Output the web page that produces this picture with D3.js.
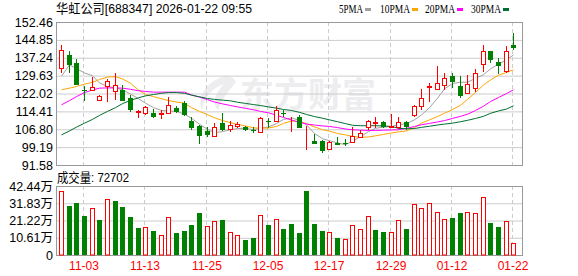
<!DOCTYPE html>
<html>
<head>
<meta charset="utf-8">
<script src="https://cdn.jsdelivr.net/npm/d3@7"></script>
<style>
  body { margin: 0; background: #fff; }
  text { font-family: Arial, "Liberation Sans", "Noto Sans CJK SC", sans-serif; }
</style>
</head>
<body>
<div id="chart"></div>
<script>
// trading days shown
const dates = ['10-29','10-30','10-31','11-03','11-04','11-05','11-06','11-07','11-10','11-11',
  '11-12','11-13','11-14','11-17','11-18','11-19','11-20','11-21','11-24','11-25',
  '11-26','11-27','11-28','12-01','12-02','12-03','12-04','12-05','12-08','12-09',
  '12-10','12-11','12-12','12-15','12-16','12-17','12-18','12-19','12-22','12-23',
  '12-24','12-25','12-26','12-29','12-30','12-31','01-05','01-06','01-07','01-08',
  '01-09','01-12','01-13','01-14','01-15','01-16','01-19','01-20','01-21','01-22'];

const open = [132.8,138.4,134.9,123.6,123.3,119.3,125.3,123.1,123.3,120.0,
  114.2,113.9,113.6,113.3,113.6,115.8,118.0,110.4,108.3,106.1,
  104.0,109.4,106.9,108.2,107.9,106.4,105.8,110.5,110.5,113.8,
  111.4,112.2,105.5,101.9,101.9,98.4,101.1,100.8,101.2,103.7,
  107.7,109.6,109.8,107.8,107.7,109.7,112.9,116.5,125.0,123.9,
  125.7,129.5,125.3,122.2,124.3,134.6,140.1,135.6,131.6,142.7];
const high = [142.7,140.3,136.6,125.3,128.9,121.5,128.1,130.7,125.7,121.4,
  115.1,116.8,115.6,115.1,120.5,116.5,119.0,111.9,108.7,107.9,
  109.4,113.6,110.5,109.7,108.2,107.9,112.2,111.5,116.8,114.8,
  112.2,112.9,108.0,104.8,102.3,102.0,103.6,102.6,107.7,106.6,
  110.8,112.2,110.5,113.2,111.9,110.5,117.2,123.9,126.7,133.8,
  130.7,130.9,129.5,129.9,132.4,142.7,140.1,137.0,142.3,147.9];
const low = [130.7,130.9,125.5,119.0,123.2,119.0,118.6,119.3,118.8,114.3,
  111.5,112.9,111.5,111.1,113.3,113.9,112.5,106.6,100.6,103.5,
  103.7,106.2,105.8,107.3,105.9,105.1,105.4,107.3,110.1,112.0,
  105.8,107.3,98.1,100.4,96.9,98.1,99.9,99.5,101.0,103.0,
  106.6,107.3,107.3,107.3,107.0,106.6,112.0,115.1,118.6,123.6,
  123.3,124.3,120.0,121.9,122.8,131.3,134.9,130.4,130.9,140.6];
const close = [140.6,134.2,125.7,123.1,124.7,121.0,127.4,125.7,119.0,115.1,
  114.5,116.2,111.9,113.6,117.2,114.3,112.9,107.3,104.0,104.4,
  107.9,106.6,108.7,108.9,106.6,106.2,111.5,109.7,115.1,113.5,
  111.6,107.3,105.7,100.6,97.6,101.5,100.0,100.5,104.0,105.1,
  110.1,109.8,107.7,108.0,109.7,107.7,116.5,120.0,125.3,126.4,
  128.5,127.1,121.0,126.1,130.9,140.3,136.3,133.8,140.1,141.3];
// volume in 万 shares
const volume = [39.4,30.1,32.2,24.0,28.7,21.5,34.3,33.2,29.5,23.4,
  16.6,17.0,14.8,12.1,23.2,13.5,14.8,18.5,25.8,17.6,
  20.9,21.5,14.0,12.1,9.2,10.3,24.4,18.5,21.9,16.0,
  19.1,13.5,39.4,19.1,14.8,14.0,10.5,9.6,18.2,15.8,
  23.8,15.4,14.1,14.1,21.3,16.0,31.2,28.7,31.8,26.3,
  22.0,22.6,25.6,26.3,25.6,35.5,19.5,17.0,20.7,7.2702];
const lastVolume = 72702;

const ma5 = [129.4,134.2,132.6,130.8,129.6,126.5,125.0,124.4,123.6,121.8,
  119.8,117.9,116.0,114.8,114.6,114.4,113.2,111.5,108.9,106.8,
  105.3,105.8,106.6,107.1,107.2,106.6,107.2,107.8,109.2,111.0,
  111.6,110.6,108.7,105.0,102.8,101.9,101.0,100.2,101.8,103.6,
  105.8,107.2,107.7,108.0,108.7,109.2,110.8,112.9,116.0,120.0,
  124.0,126.3,126.8,126.8,128.5,130.0,132.5,134.5,136.5,138.4];
const ma10 = [123.6,124.3,125.0,126.0,126.8,128.0,129.0,129.2,128.2,126.4,
  123.5,121.6,120.7,119.8,119.0,118.4,117.9,116.0,114.4,113.0,
  111.7,110.5,109.6,108.9,108.2,107.4,107.3,107.3,108.0,109.3,
  110.3,110.0,109.2,107.8,106.6,106.0,105.0,104.4,103.8,103.4,
  103.5,104.0,104.6,105.2,105.7,106.1,107.5,109.4,110.8,112.2,
  113.6,115.2,117.0,119.5,122.5,125.6,127.8,129.8,131.0,132.1];
const ma20 = [117.2,119.0,120.7,122.4,123.5,124.3,124.4,124.4,124.3,123.8,
  123.2,122.9,122.6,122.6,122.6,122.6,122.6,121.4,120.5,119.4,
  118.4,117.6,116.9,116.3,115.7,115.1,114.4,113.8,112.8,111.8,
  110.7,109.8,109.0,108.6,108.2,108.0,107.5,106.9,106.6,106.4,
  106.3,106.3,106.4,106.5,106.6,107.2,108.0,108.7,109.3,109.9,
  110.5,111.4,112.3,113.2,114.8,116.6,118.6,120.3,122.0,123.6];
const ma30 = [104.4,106.1,107.7,109.4,111.0,112.7,114.4,116.0,117.7,119.1,
  120.2,121.0,121.6,122.1,122.4,122.4,122.1,121.3,120.6,119.9,
  119.5,119.2,118.9,118.3,117.8,117.3,116.9,116.3,115.8,115.2,
  114.8,114.0,113.1,112.2,111.5,110.8,110.0,109.2,108.5,108.3,
  108.3,108.3,108.2,108.0,107.2,107.0,107.1,107.6,108.1,108.6,
  109.0,109.4,110.0,110.6,111.4,112.3,113.6,114.6,115.4,116.8];

const priceTicks = [91.58, 99.19, 106.80, 114.41, 122.02, 129.63, 137.24, 144.85, 152.46];
const volTicks = [0, 10.61, 21.22, 31.83, 42.44];
const xTickDates = ['11-03','11-13','11-25','12-05','12-17','12-29','01-12','01-22'];
const maNames = ['5PMA','10PMA','20PMA','30PMA'];
const maColors = ['#a0a0a0','#ffa500','#ff00ff','#006f32'];

const data = dates.map((d, i) => ({
  date: d, open: open[i], high: high[i], low: low[i], close: close[i], vol: volume[i],
  prev: i > 0 ? close[i - 1] : open[i]
}));

const W = 578, H = 276;
const left = 56, right = 522;
const pTop = 22, pBottom = 165;
const vTop = 186, vBottom = 255;
const RED = '#ff0000', GREEN = '#008000';

const svg = d3.select('#chart').append('svg')
  .attr('width', W)
  .attr('height', H);

const x = d3.scaleBand().domain(dates).range([57, 517.2]);
const cx = d => Math.round(x(d) + x.bandwidth() / 2);
const yP = d3.scaleLinear().domain([91.58, 152.46]).range([pBottom, pTop]);
const yV = d3.scaleLinear().domain([0, 42.44]).range([vBottom, vTop]);

// watermark
svg.append('text')
  .attr('x', 240).attr('y', 107)
  .attr('font-size', 34).attr('font-weight', 'bold')
  .attr('fill', '#ededf0')
  .style('font-family', '"Noto Sans CJK SC", sans-serif')
  .text('东方财富');
svg.append('path')
  .attr('d', 'M226,76 C208,80 196,96 202,110 C204,98 212,88 224,84 C214,94 212,104 218,110 C222,98 230,90 236,82 C234,78 230,76 226,76 Z')
  .attr('fill', '#ededf0');

// grids + y axes
const priceAxis = svg.append('g')
  .attr('transform', `translate(${left},0)`)
  .call(d3.axisLeft(yP).tickValues(priceTicks).tickSize(-(right - left))
    .tickPadding(3).tickFormat(d3.format('.2f')));
const volAxis = svg.append('g')
  .attr('transform', `translate(${left},0)`)
  .call(d3.axisLeft(yV).tickValues(volTicks).tickSize(-(right - left))
    .tickPadding(3).tickFormat(v => v === 0 ? '0' : d3.format('.2f')(v) + '万'));
[priceAxis, volAxis].forEach(g => {
  g.select('.domain').remove();
  g.selectAll('line').attr('stroke', '#cccccc');
  g.selectAll('text').attr('fill', '#000').attr('font-size', 12.5);
});

// vertical dashed date lines
[[pTop, pBottom], [vTop, vBottom]].forEach(([t, b]) => {
  svg.append('g').selectAll('line')
    .data(xTickDates)
    .enter().append('line')
    .attr('x1', d => cx(d) - 0.5).attr('x2', d => cx(d) - 0.5)
    .attr('y1', t).attr('y2', b)
    .attr('stroke', '#cccccc')
    .attr('stroke-dasharray', '4,3');
});

// x labels
svg.append('g').selectAll('text')
  .data(xTickDates)
  .enter().append('text')
  .attr('x', d => cx(d))
  .attr('y', 270)
  .attr('text-anchor', 'middle')
  .attr('font-size', 12)
  .attr('fill', RED)
  .text(d => d);

// frames
svg.append('rect').attr('x', left + 0.5).attr('y', pTop + 0.5)
  .attr('width', right - left).attr('height', pBottom - pTop)
  .attr('fill', 'none').attr('stroke', '#999');
svg.append('rect').attr('x', left + 0.5).attr('y', vTop + 0.5)
  .attr('width', right - left).attr('height', vBottom - vTop)
  .attr('fill', 'none').attr('stroke', '#999');

// MA lines
const mas = [ma5, ma10, ma20, ma30];
mas.forEach((arr, k) => {
  svg.append('path')
    .datum(arr)
    .attr('fill', 'none')
    .attr('stroke', maColors[k])
    .attr('stroke-width', 1)
    .attr('d', d3.line().x((v, i) => cx(dates[i]) + 0.5).y(v => yP(v)));
});

// candles
const candles = svg.append('g').selectAll('g')
  .data(data)
  .enter().append('g');
candles.append('line')
  .attr('x1', d => cx(d.date) + 0.5).attr('x2', d => cx(d.date) + 0.5)
  .attr('y1', d => Math.round(yP(d.high))).attr('y2', d => Math.round(yP(d.low)))
  .attr('stroke', d => d.close >= d.open ? RED : GREEN);
candles.append('rect')
  .attr('x', d => d.close >= d.open ? cx(d.date) - 1.5 : cx(d.date) - 2)
  .attr('y', d => {
    const t = Math.round(yP(Math.max(d.open, d.close)));
    return d.close >= d.open ? t + 0.5 : t;
  })
  .attr('width', d => d.close >= d.open ? 4 : 5)
  .attr('height', d => {
    const h = Math.round(yP(Math.min(d.open, d.close))) - Math.round(yP(Math.max(d.open, d.close)));
    return d.close >= d.open ? Math.max(h, 0) : Math.max(h, 1);
  })
  .attr('fill', d => d.close >= d.open ? '#fff' : GREEN)
  .attr('stroke', d => d.close >= d.open ? RED : 'none');

// volume bars (colour by change vs previous close)
svg.append('g').selectAll('rect')
  .data(data)
  .enter().append('rect')
  .attr('x', d => d.close >= d.prev ? cx(d.date) - 1.5 : cx(d.date) - 2)
  .attr('y', d => d.close >= d.prev ? Math.round(yV(d.vol)) + 0.5 : Math.round(yV(d.vol)))
  .attr('width', d => d.close >= d.prev ? 4 : 5)
  .attr('height', d => {
    const h = vBottom - Math.round(yV(d.vol));
    return d.close >= d.prev ? h - 0.5 : h;
  })
  .attr('fill', d => d.close >= d.prev ? '#fff' : GREEN)
  .attr('stroke', d => d.close >= d.prev ? RED : 'none');

// title
svg.append('text')
  .attr('x', 56).attr('y', 13)
  .attr('font-size', 13)
  .attr('fill', '#000')
  .attr('textLength', 196).attr('lengthAdjust', 'spacingAndGlyphs')
  .text('华虹公司[688347] 2026-01-22 09:55');

// legend
const legendX = [339, 380, 425, 471];
maNames.forEach((name, k) => {
  const w = name.length * 6;
  svg.append('text')
    .attr('x', legendX[k]).attr('y', 13)
    .attr('font-size', 13)
    .style('font-family', '"Liberation Serif", serif')
    .attr('textLength', w).attr('lengthAdjust', 'spacingAndGlyphs')
    .attr('fill', '#000')
    .text(name);
  svg.append('rect')
    .attr('x', legendX[k] + w + 2).attr('y', 8)
    .attr('width', 6).attr('height', 3)
    .attr('fill', maColors[k]);
});

// volume caption
svg.append('text')
  .attr('x', 57).attr('y', 182)
  .attr('font-size', 13)
  .attr('fill', '#000')
  .attr('textLength', 72).attr('lengthAdjust', 'spacingAndGlyphs')
  .text('成交量: ' + lastVolume);
</script>
</body>
</html>
